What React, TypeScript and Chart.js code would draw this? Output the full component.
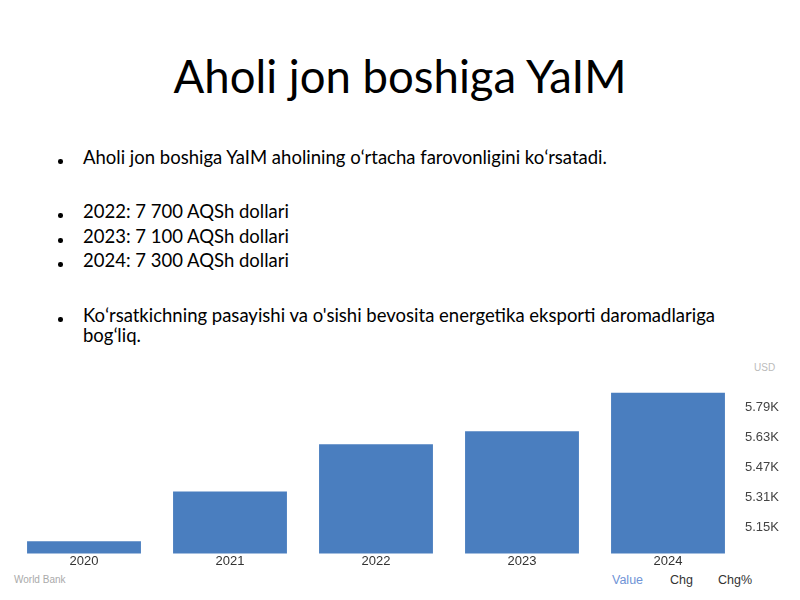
import { useEffect, useRef } from "react";
import { Chart, registerables } from "chart.js";

Chart.register(...registerables);

// chart data
const years = ["2020", "2021", "2022", "2023", "2024"];
const gdpPerCapita = [5079, 5343, 5593, 5663, 5867]; // USD
const yTickValues = [5150, 5310, 5470, 5630, 5790];

// slide text
const bulletLines = [
  { text: "Aholi jon boshiga YaIM aholining oʻrtacha farovonligini koʻrsatadi.", top: 146, dot: true },
  { text: "2022: 7 700 AQSh dollari", top: 200, dot: true },
  { text: "2023: 7 100 AQSh dollari", top: 225, dot: true },
  { text: "2024: 7 300 AQSh dollari", top: 249, dot: true },
  { text: "Koʻrsatkichning pasayishi va o'sishi bevosita energetika eksporti daromadlariga", top: 304, dot: true },
  { text: "bogʻliq.", top: 324, dot: false },
];

const tabs = [
  { label: "Value", left: 612, color: "#6f93d6" },
  { label: "Chg", left: 670, color: "#333" },
  { label: "Chg%", left: 718, color: "#333" },
];

function GdpBars() {
  const canvasRef = useRef<HTMLCanvasElement | null>(null);

  useEffect(() => {
    const el = canvasRef.current;
    if (!el) return;
    const chart = new Chart(el, {
      type: "bar",
      data: {
        labels: years,
        datasets: [
          {
            data: gdpPerCapita,
            backgroundColor: "#4a7ebf",
            barPercentage: 0.78,
            categoryPercentage: 1,
          },
        ],
      },
      options: {
        animation: false,
        responsive: true,
        maintainAspectRatio: false,
        layout: { padding: { left: 11, right: 0, top: 10, bottom: 1 } },
        plugins: { legend: { display: false }, tooltip: { enabled: false } },
        scales: {
          x: {
            grid: { display: false, drawTicks: false, tickLength: 0 },
            border: { display: false },
            ticks: {
              padding: 0,
              color: "#333",
              font: { family: "'Liberation Sans', Arial, sans-serif", size: 13, lineHeight: 1.2 },
            },
          },
          y: {
            position: "right",
            min: 5014,
            max: 5925,
            grid: { display: false, drawTicks: false, tickLength: 0 },
            border: { display: false },
            afterBuildTicks: (scale) => {
              scale.ticks = yTickValues.map((v) => ({ value: v }));
            },
            afterFit: (scale) => {
              scale.width = 59;
            },
            ticks: {
              padding: 4,
              color: "#444",
              font: { family: "'Liberation Sans', Arial, sans-serif", size: 13 },
              callback: (v) => (Number(v) / 1000).toFixed(2) + "K",
            },
          },
        },
      },
    });
    return () => chart.destroy();
  }, []);

  return <canvas ref={canvasRef} />;
}

export default function App() {
  useEffect(() => {
    document.body.style.margin = "0";
  }, []);

  return (
    <div
      style={{
        position: "relative",
        width: 800,
        height: 600,
        background: "#fff",
        fontFamily: "Lato, 'Open Sans', sans-serif",
        color: "#000",
        overflow: "hidden",
      }}
    >
      <div
        style={{
          position: "absolute",
          top: 48,
          left: 0,
          width: 800,
          textAlign: "center",
          fontSize: 45.5,
          lineHeight: "56px",
        }}
      >
        Aholi jon boshiga YaIM
      </div>

      {bulletLines.map((l) => (
        <div key={l.text} style={{ position: "absolute", top: l.top, left: 0, width: 800 }}>
          {l.dot && (
            <span
              style={{
                position: "absolute",
                left: 58,
                top: 13,
                width: 4.5,
                height: 4.5,
                borderRadius: "50%",
                background: "#000",
              }}
            />
          )}
          <span
            style={{
              position: "absolute",
              left: 83,
              fontSize: 18.5,
              lineHeight: "22px",
              whiteSpace: "nowrap",
            }}
          >
            {l.text}
          </span>
        </div>
      ))}

      <div
        style={{
          position: "absolute",
          top: 362,
          left: 754,
          fontSize: 10,
          color: "#bbb",
          fontFamily: "'Liberation Sans', Arial, sans-serif",
        }}
      >
        USD
      </div>

      <div style={{ position: "absolute", top: 370, left: 0, width: 800, height: 200 }}>
        <GdpBars />
      </div>

      <div
        style={{
          position: "absolute",
          top: 574,
          left: 14,
          fontSize: 10,
          color: "#aaa",
          fontFamily: "'Liberation Sans', Arial, sans-serif",
        }}
      >
        World Bank
      </div>

      {tabs.map((t) => (
        <div
          key={t.label}
          style={{
            position: "absolute",
            top: 573,
            left: t.left,
            fontSize: 12.5,
            color: t.color,
            fontFamily: "'Liberation Sans', Arial, sans-serif",
          }}
        >
          {t.label}
        </div>
      ))}
    </div>
  );
}
